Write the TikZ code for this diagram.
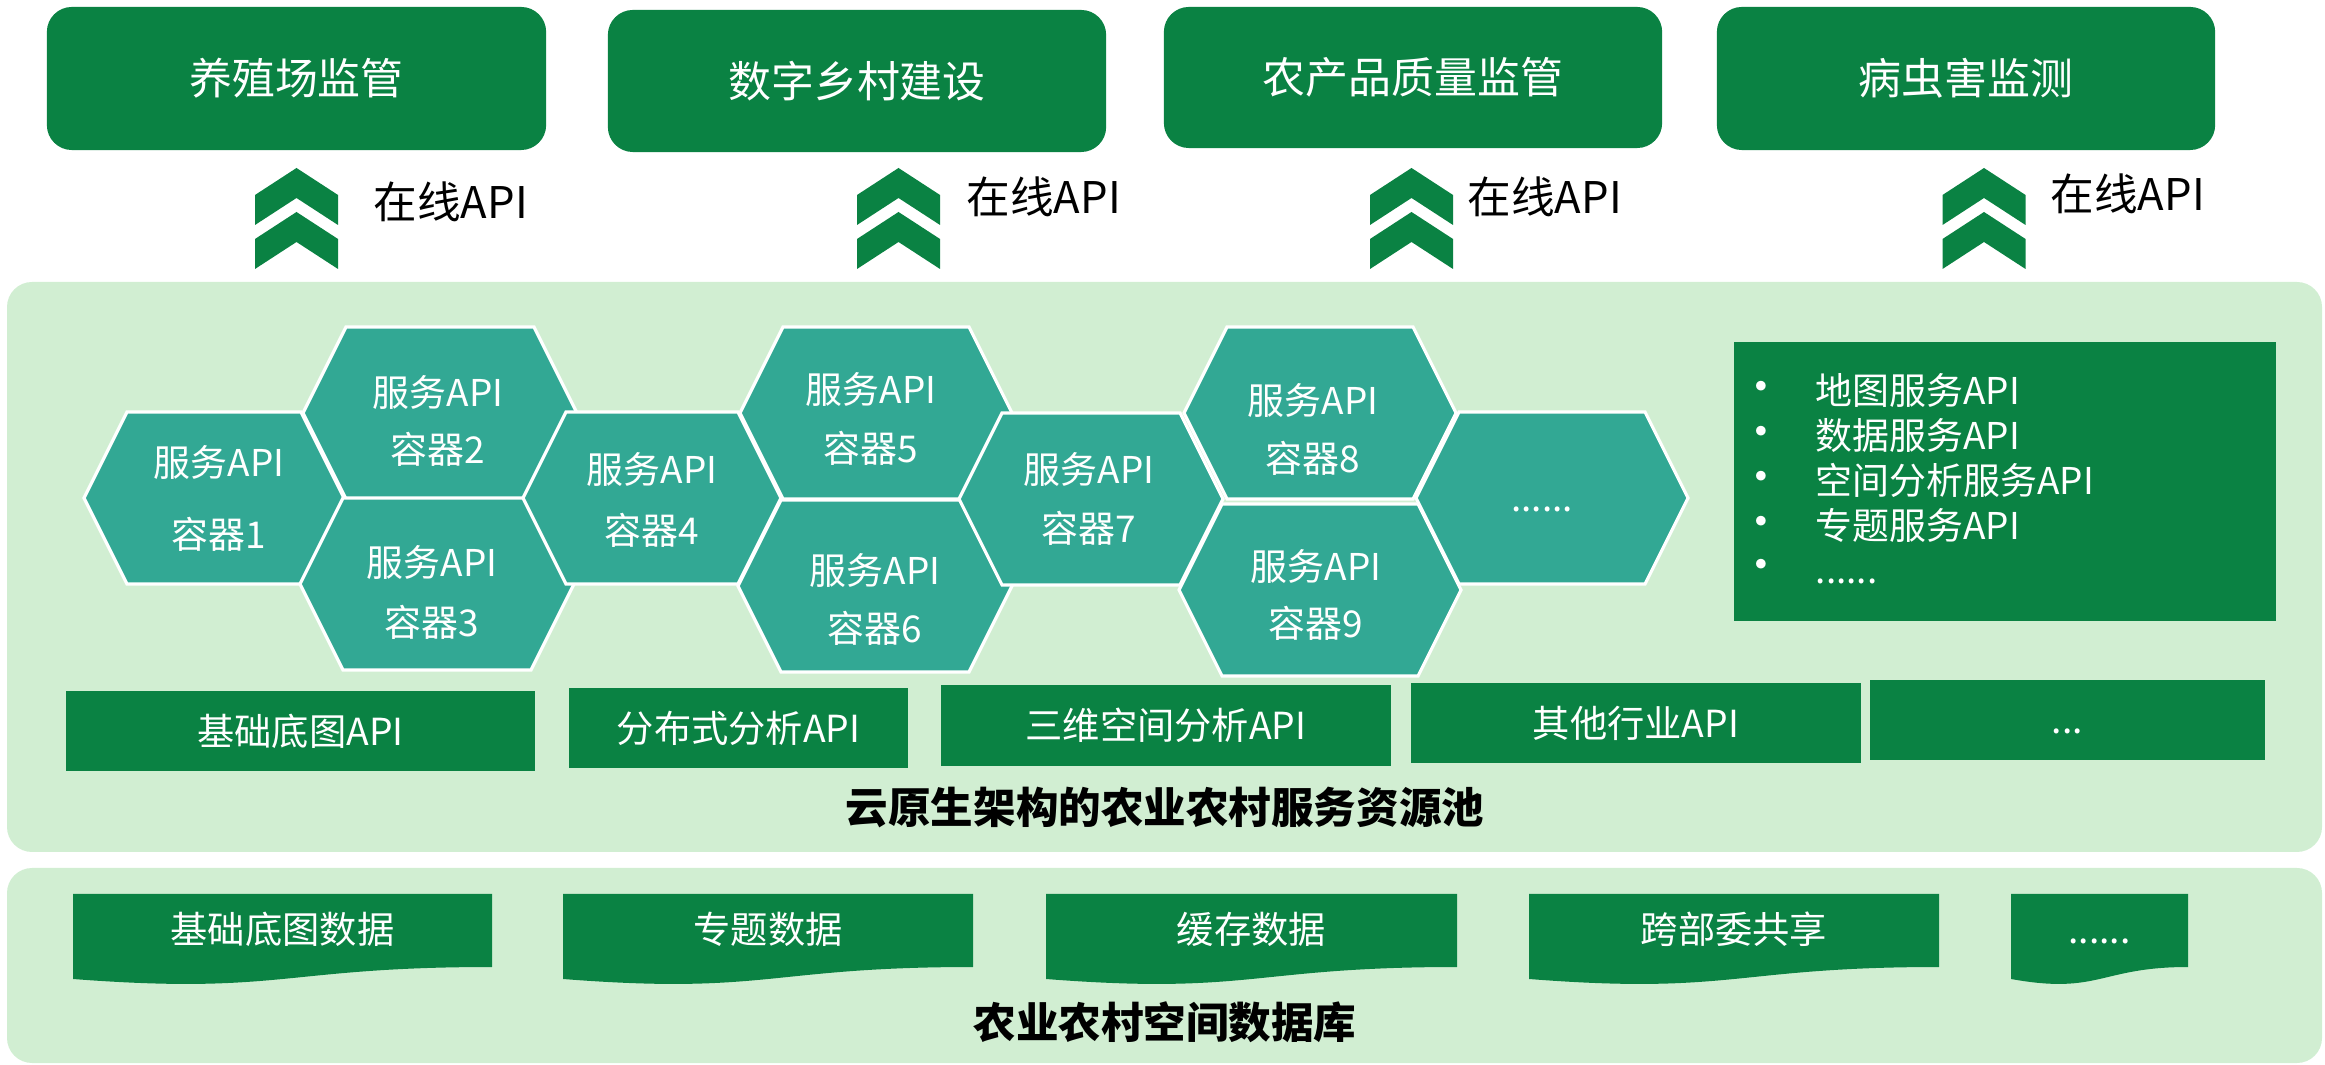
\documentclass[tikz,border=0pt]{standalone}
\usepackage{fontspec}
\setmainfont{Noto Sans CJK SC}
\definecolor{dg}{RGB}{10,130,67}
\definecolor{tealh}{RGB}{50,168,148}
\definecolor{lg}{RGB}{209,238,210}
\newcommand\fs[1]{\fontsize{#1}{#1}\selectfont}
\newcommand\hexa[3]{%
  \path[hexfill] (#1-#3,#2) -- (#1-#3+43,#2-86) -- (#1+#3-43,#2-86) -- (#1+#3,#2)
    -- (#1+#3-43,#2+86) -- (#1-#3+43,#2+86) -- cycle;}
\newcommand\chev[2]{%
  \fill[dg] (#1,#2) -- (#1+41.5,#2+27) -- (#1+41.5,#2+57) -- (#1,#2+30)
    -- (#1-41.5,#2+57) -- (#1-41.5,#2+27) -- cycle;
  \fill[dg] (#1,#2+44) -- (#1+41.5,#2+71) -- (#1+41.5,#2+101) -- (#1,#2+74)
    -- (#1-41.5,#2+101) -- (#1-41.5,#2+71) -- cycle;}
\newcommand\docshape[2]{%
  \fill[dg] (#1,894) -- (#2,894) -- (#2,967) .. controls ({(#1+#2)/2},967) and ({(#1+#2)/2},995) .. (#1,979) -- cycle;}
\begin{document}
\begin{tikzpicture}[x=0.01cm,y=-0.01cm,
  topbox/.style={fill=dg,rounded corners=0.25cm,text=white,font=\fs{12.2pt},inner sep=0pt},
  apibox/.style={fill=dg,text=white,font=\fs{10.6pt},inner sep=0pt,minimum height=0.8cm},
  hexfill/.style={fill=tealh,draw=white,line width=0.9pt},
  hextxt/.style={text=white,font=\fs{10.5pt},inner sep=0pt},
  listtxt/.style={text=white,font=\fs{10.5pt},inner sep=0pt,anchor=base west},
  bul/.style={text=white,font=\fs{13pt},inner sep=0pt,anchor=center},
  doctxt/.style={text=white,font=\fs{10.6pt},inner sep=0pt,anchor=base},
  apitxt/.style={text=black,font=\fs{12.4pt},inner sep=0pt,anchor=west},
  title/.style={text=black,font=\bfseries\fs{12.1pt},inner sep=0pt},
  panel/.style={fill=lg,rounded corners=0.25cm}]
\useasboundingbox (0,0) rectangle (2325,1065);

% top boxes
\node[topbox,minimum width=4.99cm,minimum height=1.43cm] (t1) at (296.5,78.5) {养殖场监管};
\node[topbox,minimum width=4.98cm,minimum height=1.42cm] (t2) at (857,81) {数字乡村建设};
\node[topbox,minimum width=4.98cm,minimum height=1.41cm] (t3) at (1413,77.5) {农产品质量监管};
\node[topbox,minimum width=4.98cm,minimum height=1.43cm] (t4) at (1966,78.5) {病虫害监测};

% online API chevrons
\chev{296.5}{168}
\chev{898.5}{168}
\chev{1411.5}{168}
\chev{1984}{168}
\node[apitxt] (a1) at (373,202) {在线API};
\node[apitxt] (a2) at (966,197) {在线API};
\node[apitxt] (a3) at (1467,197) {在线API};
\node[apitxt] (a4) at (2050,194) {在线API};

% middle panel
\path[panel] (7,282) rectangle (2322,852);

% hexagons
\hexa{214}{498}{130}
\hexa{440}{413}{137}
\hexa{437}{584}{137}
\hexa{652}{498}{129}
\hexa{876}{413}{136}
\hexa{875}{586}{137}
\hexa{1091}{499}{132}
\hexa{1320}{413}{136}
\hexa{1320}{590}{141}
\hexa{1552}{498}{136}

\node[hextxt] (h1a) at (219,462) {服务API};
\node[hextxt] (h1b) at (219,534) {容器1};
\node[hextxt] (h2a) at (438,392) {服务API};
\node[hextxt] (h2b) at (438,449) {容器2};
\node[hextxt] (h3a) at (432,562) {服务API};
\node[hextxt] (h3b) at (432,622) {容器3};
\node[hextxt] (h4a) at (652,469) {服务API};
\node[hextxt] (h4b) at (652,530) {容器4};
\node[hextxt] (h5a) at (871,389) {服务API};
\node[hextxt] (h5b) at (871,448) {容器5};
\node[hextxt] (h6a) at (875,570) {服务API};
\node[hextxt] (h6b) at (875,628) {容器6};
\node[hextxt] (h7a) at (1089,469) {服务API};
\node[hextxt] (h7b) at (1089,528) {容器7};
\node[hextxt] (h8a) at (1313,400) {服务API};
\node[hextxt] (h8b) at (1313,458) {容器8};
\node[hextxt] (h9a) at (1316,566) {服务API};
\node[hextxt] (h9b) at (1316,623) {容器9};
\node[hextxt,anchor=base] (h10) at (1542,512) {......};

% list box
\node[fill=dg,minimum width=5.42cm,minimum height=2.78cm,inner sep=0pt] (list) at (2005,481.5) {};
\node[bul] (l1b) at (1761,392) {•};
\node[bul] (l2b) at (1761,437) {•};
\node[bul] (l3b) at (1761,482) {•};
\node[bul] (l4b) at (1761,527) {•};
\node[bul] (l5b) at (1761,570) {•};
\node[listtxt] (l1) at (1815,405) {地图服务API};
\node[listtxt] (l2) at (1815,450) {数据服务API};
\node[listtxt] (l3) at (1815,495) {空间分析服务API};
\node[listtxt] (l4) at (1815,540) {专题服务API};
\node[listtxt] (l5) at (1815,584) {......};

% API boxes
\node[apibox,minimum width=4.69cm] (b1) at (300.5,731) {基础底图API};
\node[apibox,minimum width=3.39cm] (b2) at (738.5,728) {分布式分析API};
\node[apibox,minimum width=4.50cm,minimum height=0.81cm] (b3) at (1166,725.5) {三维空间分析API};
\node[apibox,minimum width=4.50cm] (b4) at (1636,723) {其他行业API};
\node[apibox,minimum width=3.95cm] (b5) at (2067.5,720) {\vphantom{国}...};

\node[title] (pool) at (1165,808) {云原生架构的农业农村服务资源池};

% bottom panel
\path[panel] (7,868) rectangle (2322,1063);
\docshape{73}{492}
\docshape{563}{973}
\docshape{1046}{1457}
\docshape{1529}{1939}
\docshape{2011}{2188}
\node[doctxt] (d1) at (282.5,943) {基础底图数据};
\node[doctxt] (d2) at (768,943) {专题数据};
\node[doctxt] (d3) at (1251.5,943) {缓存数据};
\node[doctxt] (d4) at (1734,943) {跨部委共享};
\node[doctxt] (d5) at (2099.5,943) {......};

\node[title] (db) at (1165,1022) {农业农村空间数据库};
\end{tikzpicture}
\end{document}
